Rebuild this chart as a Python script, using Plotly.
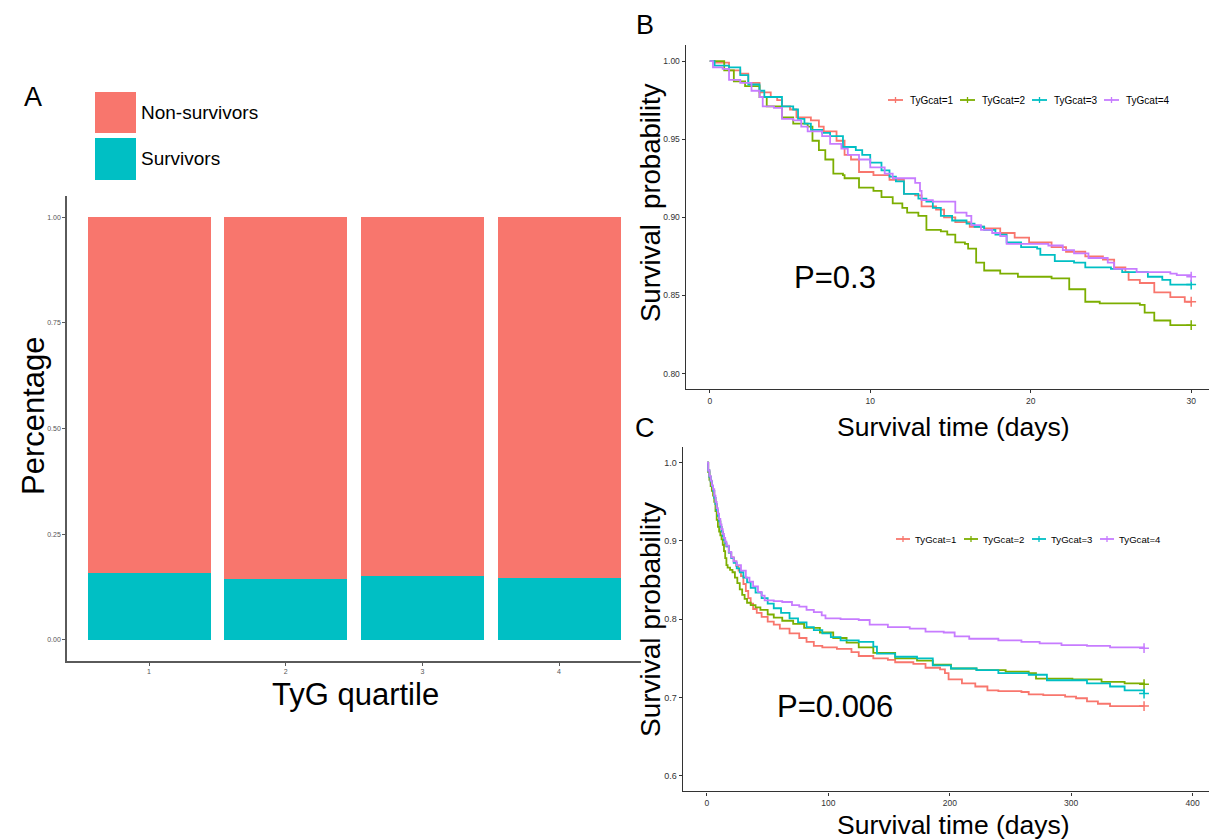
import plotly.graph_objects as go

# ---------------- data ----------------
quartiles = [1, 2, 3, 4]
survivors = [0.158, 0.144, 0.152, 0.147]
non_survivors = [0.842, 0.856, 0.848, 0.853]

groups = ["TyGcat=1", "TyGcat=2", "TyGcat=3", "TyGcat=4"]
colors = ["#F8766D", "#7CAE00", "#00BFC4", "#C77CFF"]

# Panel B: 30-day Kaplan-Meier (time in days, survival probability)
b1_t = [0, 0.3, 1.2, 1.9, 2.4, 3.1, 3.8, 4.2, 4.5, 5.0, 5.4, 6.3, 6.8, 7.1, 7.9, 8.4, 8.8, 9.3, 10.2, 11.2,
        12.1, 12.8, 13.2, 14.1, 14.6, 15.3, 16.2, 17.1, 18.1, 19.0, 19.9, 21.3, 22.2, 23.4, 24.5, 25.2, 25.9,
        26.1, 26.8, 27.7, 28.7, 29.6, 30.0]
b1_s = [1.0, 0.999, 0.994, 0.992, 0.986, 0.980, 0.977, 0.975, 0.971, 0.969, 0.964, 0.962, 0.958, 0.955, 0.949,
        0.940, 0.937, 0.929, 0.927, 0.924, 0.915, 0.914, 0.907, 0.905, 0.900, 0.897, 0.894, 0.893, 0.890, 0.887,
        0.884, 0.881, 0.878, 0.875, 0.873, 0.868, 0.865, 0.860, 0.858, 0.852, 0.849, 0.846, 0.846]
b2_t = [0, 0.9, 1.5, 2.2, 3.1, 3.55, 4.5, 5.2, 6.1, 6.4, 6.8, 7.2, 7.7, 8.3, 8.4, 9.3, 10.2, 10.7, 11.4, 12.0,
        12.3, 13.0, 13.5, 14.4, 14.8, 15.3, 15.9, 16.1, 16.6, 17.1, 18.1, 19.2, 21.3, 22.4, 23.4, 24.3, 26.8,
        27.1, 27.7, 28.7, 30.0]
b2_s = [1.0, 0.994, 0.987, 0.984, 0.977, 0.971, 0.964, 0.960, 0.958, 0.949, 0.943, 0.937, 0.928, 0.927, 0.925,
        0.919, 0.917, 0.913, 0.909, 0.906, 0.903, 0.901, 0.892, 0.891, 0.889, 0.884, 0.883, 0.880, 0.871, 0.866,
        0.864, 0.862, 0.861, 0.854, 0.846, 0.845, 0.844, 0.839, 0.834, 0.831, 0.831]
b3_t = [0, 0.3, 1.2, 1.9, 2.4, 3.1, 3.4, 4.5, 5.2, 5.5, 5.9, 6.3, 7.0, 7.5, 8.3, 9.1, 9.5, 10.0, 10.7, 11.2,
        11.6, 12.1, 13.0, 13.5, 13.9, 14.4, 15.1, 16.0, 16.5, 17.1, 17.8, 18.5, 19.4, 20.4, 20.6, 21.5, 22.7,
        23.4, 25.0, 25.7, 27.3, 28.2, 28.7, 30.0]
b3_s = [1.0, 0.997, 0.996, 0.991, 0.985, 0.981, 0.977, 0.971, 0.969, 0.963, 0.960, 0.956, 0.954, 0.952, 0.945,
        0.943, 0.940, 0.935, 0.930, 0.926, 0.923, 0.915, 0.912, 0.910, 0.906, 0.901, 0.898, 0.896, 0.894, 0.892,
        0.889, 0.884, 0.881, 0.880, 0.876, 0.872, 0.871, 0.868, 0.867, 0.865, 0.862, 0.860, 0.857, 0.857]
b4_t = [0, 0.2, 0.8, 1.2, 1.9, 2.6, 3.1, 3.3, 4.0, 4.5, 5.2, 5.7, 6.1, 7.0, 7.5, 8.2, 8.6, 9.3, 10.0, 10.9,
        11.4, 12.8, 13.1, 13.2, 13.9, 15.3, 16.0, 16.3, 16.9, 17.6, 18.1, 18.5, 21.1, 22.0, 22.7, 23.6, 24.8,
        25.2, 26.6, 28.7, 29.1, 30.0]
b4_s = [1.0, 0.996, 0.995, 0.988, 0.986, 0.981, 0.977, 0.971, 0.970, 0.963, 0.962, 0.958, 0.955, 0.952, 0.947,
        0.944, 0.940, 0.937, 0.932, 0.928, 0.925, 0.922, 0.917, 0.911, 0.910, 0.903, 0.901, 0.895, 0.892, 0.890,
        0.888, 0.883, 0.882, 0.879, 0.877, 0.874, 0.871, 0.867, 0.865, 0.864, 0.863, 0.862]

# Panel C: 360-day Kaplan-Meier
c1_t = [0, 1, 2, 3, 4, 5, 6, 7, 8, 9, 10, 11, 12, 13, 14, 15, 16, 18, 20, 22, 24, 26, 28, 30, 32, 34, 36, 38,
        41, 45, 50, 55, 60, 68, 76, 82, 88, 95, 107, 119, 125, 137, 149, 155, 170, 180, 192, 196, 199, 210,
        221, 231, 240, 259, 265, 277, 295, 304, 313, 322, 332, 360]
c1_s = [1.0, 0.99, 0.982, 0.976, 0.970, 0.964, 0.955, 0.947, 0.939, 0.932, 0.925, 0.918, 0.912, 0.906, 0.901,
        0.897, 0.893, 0.885, 0.879, 0.874, 0.868, 0.862, 0.855, 0.845, 0.836, 0.827, 0.820, 0.813, 0.808, 0.803,
        0.797, 0.793, 0.788, 0.782, 0.776, 0.771, 0.766, 0.764, 0.762, 0.758, 0.753, 0.750, 0.748, 0.745, 0.743,
        0.738, 0.736, 0.731, 0.723, 0.718, 0.714, 0.709, 0.708, 0.707, 0.704, 0.703, 0.701, 0.699, 0.695, 0.692,
        0.689, 0.689]
c2_t = [0, 1, 2, 3, 4, 5, 6, 7, 8, 9, 10, 11, 12, 13, 14, 15, 16, 17, 19, 21, 23, 25, 27, 29, 31, 33, 36, 40,
        44, 50, 55, 62, 71, 80, 93, 104, 115, 125, 137, 155, 173, 186, 201, 222, 246, 265, 271, 301, 325, 344, 360]
c2_s = [1.0, 0.988, 0.978, 0.970, 0.964, 0.958, 0.950, 0.938, 0.927, 0.918, 0.912, 0.907, 0.902, 0.895, 0.887,
        0.878, 0.869, 0.866, 0.863, 0.860, 0.853, 0.846, 0.838, 0.831, 0.826, 0.821, 0.818, 0.815, 0.812, 0.806,
        0.802, 0.798, 0.794, 0.789, 0.783, 0.776, 0.770, 0.764, 0.757, 0.750, 0.747, 0.742, 0.737, 0.735, 0.733,
        0.731, 0.724, 0.723, 0.720, 0.718, 0.717]
c3_t = [0, 1, 2, 3, 4, 5, 6, 7, 8, 9, 10, 11, 12, 13, 14, 15, 16, 18, 20, 22, 24.5, 27, 30, 33, 36, 40, 45, 50,
        55, 61, 68, 75, 82, 88, 95, 102, 110, 125, 137, 140, 155, 173, 186, 201, 222, 240, 265, 280, 301, 313,
        332, 344, 360]
c3_s = [1.0, 0.99, 0.982, 0.976, 0.970, 0.964, 0.955, 0.947, 0.939, 0.932, 0.925, 0.918, 0.912, 0.906, 0.901,
        0.897, 0.893, 0.885, 0.878, 0.872, 0.865, 0.860, 0.853, 0.847, 0.840, 0.834, 0.827, 0.820, 0.814, 0.808,
        0.801, 0.796, 0.790, 0.786, 0.782, 0.777, 0.773, 0.771, 0.765, 0.756, 0.752, 0.750, 0.741, 0.737, 0.735,
        0.731, 0.729, 0.722, 0.722, 0.718, 0.714, 0.709, 0.705]
c4_t = [0, 1, 2, 3, 4, 5, 6, 7, 8, 9, 10, 11, 12, 13, 14, 15, 16, 18, 20, 22, 24.5, 28, 32, 35, 38, 42, 45, 47.5,
        55, 62, 70, 76, 82, 88, 94.5, 97.6, 110, 125, 134, 149, 167, 180, 195, 204, 216, 240, 259, 274, 292, 313,
        332, 360]
c4_s = [1.0, 0.99, 0.983, 0.977, 0.971, 0.966, 0.958, 0.950, 0.942, 0.935, 0.928, 0.921, 0.915, 0.909, 0.904,
        0.899, 0.894, 0.886, 0.879, 0.874, 0.869, 0.862, 0.853, 0.848, 0.842, 0.835, 0.830, 0.824, 0.823, 0.822,
        0.818, 0.816, 0.812, 0.809, 0.805, 0.801, 0.800, 0.799, 0.793, 0.790, 0.788, 0.784, 0.783, 0.778, 0.775,
        0.773, 0.771, 0.769, 0.767, 0.766, 0.764, 0.763]

b_times = [b1_t, b2_t, b3_t, b4_t]
b_surv = [b1_s, b2_s, b3_s, b4_s]
c_times = [c1_t, c2_t, c3_t, c4_t]
c_surv = [c1_s, c2_s, c3_s, c4_s]

W, H = 1209, 839
FONT = "Liberation Sans, Arial, sans-serif"


def px(x):
    return x / W


def py(y):
    return 1 - y / H


fig = go.Figure()

# ---------------- Panel A: stacked bars ----------------
fig.add_trace(go.Bar(x=quartiles, y=survivors, marker_color="#00BFC4", width=0.9,
                     name="Survivors", showlegend=False, xaxis="x", yaxis="y",
                     marker_line_width=0))
fig.add_trace(go.Bar(x=quartiles, y=non_survivors, marker_color="#F8766D", width=0.9,
                     name="Non-survivors", showlegend=False, xaxis="x", yaxis="y",
                     marker_line_width=0))

# ---------------- Panels B and C: KM curves ----------------
for times, surv, xa, ya in [(b_times, b_surv, "x2", "y2"), (c_times, c_surv, "x3", "y3")]:
    for g, col, t, s in zip(groups, colors, times, surv):
        fig.add_trace(go.Scatter(x=t, y=s, mode="lines", line=dict(color=col, width=1.8, shape="hv"),
                                 name=g, showlegend=False, xaxis=xa, yaxis=ya))
        fig.add_trace(go.Scatter(x=[t[-1]], y=[s[-1]], mode="markers",
                                 marker=dict(symbol="cross-thin", size=7, line=dict(color=col, width=1.5)),
                                 showlegend=False, xaxis=xa, yaxis=ya, hoverinfo="skip"))

axis_common = dict(showgrid=False, zeroline=False, showline=True, ticks="outside", ticklen=3,
                   fixedrange=True)

fig.update_layout(
    width=W, height=H, margin=dict(l=0, r=0, t=0, b=0),
    paper_bgcolor="white", plot_bgcolor="white",
    barmode="stack", bargap=0, showlegend=False,
    font=dict(family=FONT, color="black"),
    xaxis=dict(domain=[px(67), px(641)], anchor="y", range=[0.4, 4.6], tickvals=quartiles,
               ticktext=[str(q) for q in quartiles], linecolor="#5a5a5a", linewidth=1.5,
               tickcolor="#5a5a5a", tickfont=dict(size=7, color="#555555"), **axis_common),
    yaxis=dict(domain=[py(661), py(196)], anchor="x", range=[-0.05, 1.05],
               tickvals=[0, 0.25, 0.5, 0.75, 1.0], tickformat=".2f", linecolor="#5a5a5a", linewidth=1.5,
               tickcolor="#5a5a5a", tickfont=dict(size=7, color="#555555"), **axis_common),
    xaxis2=dict(domain=[px(685.7), 1], anchor="y2", range=[-1.5, 31.11], tickvals=[0, 10, 20, 30],
                linecolor="#333333", linewidth=1.3, tickcolor="#333333",
                tickfont=dict(size=8.5, color="#333333"), **axis_common),
    yaxis2=dict(domain=[py(389.3), py(45.4)], anchor="x2", range=[0.79, 1.01],
                tickvals=[0.80, 0.85, 0.90, 0.95, 1.00], tickformat=".2f",
                linecolor="#333333", linewidth=1.3, tickcolor="#333333",
                tickfont=dict(size=8.5, color="#333333"), **axis_common),
    xaxis3=dict(domain=[px(682.7), 1], anchor="y3", range=[-20, 413.5], tickvals=[0, 100, 200, 300, 400],
                linecolor="#333333", linewidth=1.3, tickcolor="#333333",
                tickfont=dict(size=8.5, color="#333333"), **axis_common),
    yaxis3=dict(domain=[py(791.4), py(447)], anchor="x3", range=[0.58, 1.02],
                tickvals=[0.6, 0.7, 0.8, 0.9, 1.0], tickformat=".1f",
                linecolor="#333333", linewidth=1.3, tickcolor="#333333",
                tickfont=dict(size=9, color="#333333"), **axis_common),
)

ann = []
shapes = []


def text(x, y, s, size, angle=0, anchor="center"):
    ann.append(dict(x=px(x), y=py(y), xref="paper", yref="paper", text=s, showarrow=False,
                    xanchor=anchor, yanchor="middle", textangle=angle, borderpad=0,
                    font=dict(size=size, family=FONT, color="black")))


# Panel labels and titles
text(33, 97, "A", 27)
text(645, 25, "B", 27)
text(645, 428, "C", 27)
text(33, 416, "Percentage", 31, -90)
text(355, 694, "TyG quartile", 31)
text(650, 203, "Survival\u00a0 probability", 27.5, -90)
text(650, 620, "Survival probability", 28, -90)
text(953, 427, "Survival time (days)", 26.5)
text(953, 825, "Survival time (days)", 26.5)
text(835, 278, "P=0.3", 31)
text(835, 706, "P=0.006", 31)

# Panel A legend
legA = [("Non-survivors", "#F8766D", 92, 133), ("Survivors", "#00BFC4", 138, 180)]
for lab, col, y0, y1 in legA:
    shapes.append(dict(type="rect", xref="paper", yref="paper", x0=px(95), x1=px(136), y0=py(y1), y1=py(y0),
                       fillcolor=col, line=dict(width=0)))
    text(140, (y0 + y1) / 2, lab, 19, anchor="left")

# KM legends (B and C)
for (ly, x_start, pitch, keylen, txt_off, fsize) in [(100, 888, 72, 15, 21, 10), (539, 896, 68, 14, 18, 9.6)]:
    for i, (g, col) in enumerate(zip(groups, colors)):
        kx = x_start + i * pitch
        shapes.append(dict(type="line", xref="paper", yref="paper", x0=px(kx), x1=px(kx + keylen),
                           y0=py(ly), y1=py(ly), line=dict(color=col, width=1.8)))
        shapes.append(dict(type="line", xref="paper", yref="paper", x0=px(kx + keylen / 2),
                           x1=px(kx + keylen / 2), y0=py(ly - 3), y1=py(ly + 3), line=dict(color=col, width=1.3)))
        text(kx + txt_off, ly, g, fsize, anchor="left")

fig.update_layout(annotations=ann, shapes=shapes)

fig.write_html("out.html", config={"displayModeBar": False},
               post_script="document.body.style.margin='0';")
